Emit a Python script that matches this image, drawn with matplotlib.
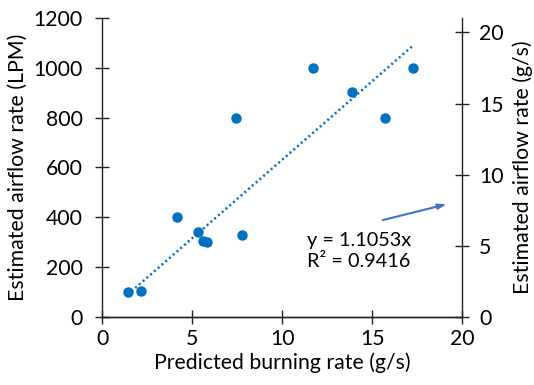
import numpy as np
import matplotlib.pyplot as plt

plt.rcParams['font.family'] = ['Lato', 'DejaVu Sans']

# measured points: predicted burning rate (g/s) vs estimated airflow (LPM)
burn_rate = [1.41, 2.15, 4.15, 5.31, 5.61, 5.80, 7.44, 7.76, 11.72, 13.87, 15.72, 17.26]
airflow_lpm = [100, 105, 400, 340, 305, 300, 800, 330, 1000, 905, 800, 1000]

# linear fit through origin, in g/s
slope = 1.1053
r2 = 0.9416

blue = '#0070C0'
fs = 15.3

fig = plt.figure(figsize=(5.34, 3.85), dpi=100)
ax = fig.add_axes([0.1916, 0.1774, 0.6741, 0.7751])
ax2 = ax.twinx()

ax.plot(burn_rate, airflow_lpm, 'o', color=blue, markersize=6.5, zorder=3)

xfit = np.array([min(burn_rate), max(burn_rate)])
ax2.plot(xfit, slope * xfit, color=blue, lw=1.8, linestyle=(0, (0.8, 1.2)))

ax.set_xlim(0, 20)
ax.set_ylim(0, 1200)
ax2.set_ylim(0, 21)
ax.set_xticks([0, 5, 10, 15, 20])
ax.set_yticks(range(0, 1201, 200))
ax2.set_yticks([0, 5, 10, 15, 20])

for a in (ax, ax2):
    a.spines['top'].set_visible(False)
    for s in a.spines.values():
        s.set_color('#222222')
        s.set_linewidth(1.0)
    a.tick_params(direction='inout', length=10, width=1.0, color='#222222',
                  labelsize=fs, pad=4)
ax.tick_params(axis='y', pad=9)
ax2.tick_params(axis='y', pad=7)
ax2.spines['left'].set_visible(False)
ax.spines['right'].set_visible(False)

ax.set_xlabel('Predicted burning rate (g/s)', fontsize=fs, labelpad=2)
ax.set_ylabel('Estimated airflow rate (LPM)', fontsize=fs, labelpad=4)
ax2.set_ylabel('Estimated airflow rate (g/s)', fontsize=fs, labelpad=6)

ax2.text(11.4, 4.6, f'y = {slope}x\nR² = {r2}', fontsize=14.3,
         linespacing=1.3, va='center', ha='left')
ax2.annotate('', xy=(19.3, 7.97), xytext=(15.43, 6.75),
             arrowprops=dict(arrowstyle='-|>,head_length=0.5,head_width=0.15',
                             color='#4472C4', lw=1.5))

fig.savefig('out.png', dpi=100)
